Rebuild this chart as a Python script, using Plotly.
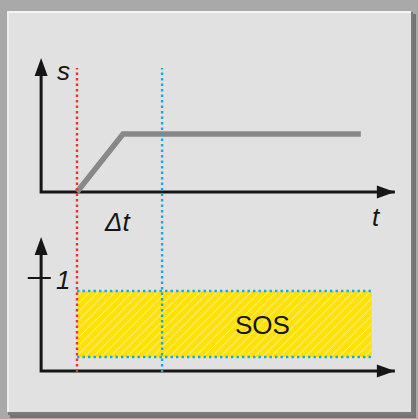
import plotly.graph_objects as go

# ---- data (t in units of the ramp time, s normalised) ----
ramp_t = [0.0, 1.0, 6.17]          # gray curve: start, end of ramp, end of plateau
ramp_s = [0.0, 1.0, 1.0]
t_red = 0.0                         # event line
t_cyan = 1.85                       # response line
t_origin = -0.78
t_max = 6.91
s_top = 2.31
line_top = 2.14
sos_t = [0.0, 6.41]                 # SOS band start / end
sos_v = [0.15, 0.86]                # SOS band low / high
v_top = 1.44
tick_val = 1

W, H = 418, 419
# pixel <-> data calibration (px per unit, pixel of origin)
PXT, X0 = 46.0, 77.0
PXS, YS0 = 58.0, 192.0
PXV, YV0 = 93.0, 371.0

xr = [(0 - X0) / PXT, (W - X0) / PXT]
yr_top = [(YS0 - H) / PXS, YS0 / PXS]
yr_bot = [(YV0 - H) / PXV, YV0 / PXV]

BLACK = '#161616'
RED = '#e8362a'
CYAN = '#17a9e0'
FONT = 'Liberation Sans, Arial, sans-serif'
DOT = '2.4px,3.1px'

fig = go.Figure()

# top panel
fig.add_trace(go.Scatter(x=[t_origin, t_origin, t_max], y=[s_top - 0.2, 0, 0], mode='lines',
                         line=dict(color=BLACK, width=3), hoverinfo='skip', yaxis='y'))
fig.add_trace(go.Scatter(x=ramp_t, y=ramp_s, mode='lines',
                         line=dict(color='#888888', width=5.5), hoverinfo='skip', yaxis='y'))

# bottom panel
fig.add_trace(go.Scatter(x=[sos_t[0], sos_t[1], sos_t[1], sos_t[0], sos_t[0]],
                         y=[sos_v[0], sos_v[0], sos_v[1], sos_v[1], sos_v[0]],
                         mode='lines', fill='toself', fillcolor='#ffe10a',
                         fillpattern=dict(shape='/', fgcolor='white', fgopacity=0.7, size=6, solidity=0.15),
                         line=dict(width=0), hoverinfo='skip', yaxis='y2'))
for v in sos_v:
    fig.add_trace(go.Scatter(x=sos_t, y=[v, v], mode='lines',
                             line=dict(color=CYAN, width=2.4, dash=DOT), hoverinfo='skip', yaxis='y2'))
fig.add_trace(go.Scatter(x=[t_origin, t_origin, t_max], y=[v_top - 0.1, 0, 0], mode='lines',
                         line=dict(color=BLACK, width=3), hoverinfo='skip', yaxis='y2'))
fig.add_trace(go.Scatter(x=[t_origin - 0.29, t_origin + 0.21], y=[tick_val, tick_val], mode='lines',
                         line=dict(color=BLACK, width=2), hoverinfo='skip', yaxis='y2'))

# vertical dotted markers spanning both panels
v_bottom = -0.01
v_line_top = line_top * PXS / PXV + (YV0 - YS0) / PXV
for tx, col in [(t_red, RED), (t_cyan, CYAN)]:
    fig.add_trace(go.Scatter(x=[tx, tx], y=[v_bottom, v_line_top], mode='lines',
                             line=dict(color=col, width=2.4, dash=DOT), hoverinfo='skip', yaxis='y2'))

shapes = []
# frame
def px_rect(x0, y0, x1, y1, color, **kw):
    return dict(type='rect', xref='paper', yref='paper', x0=x0 / W, x1=x1 / W,
                y0=1 - y1 / H, y1=1 - y0 / H, fillcolor=color, line=dict(width=0), layer='below', **kw)
shapes.append(px_rect(10, 14, 416, 418, '#5e5e5e', opacity=0.7))
shapes.append(px_rect(8, 12, 413, 415, '#7a7a7a'))
shapes.append(px_rect(7, 11, 411, 412, '#e1e1e1'))
shapes.append(px_rect(7, 11, 411, 13, '#f4f4f4'))
shapes.append(px_rect(7, 11, 9, 412, '#eeeeee'))

# arrowheads
def arrow(xa, ya, yref, path):
    return dict(type='path', xref='x', yref=yref, xsizemode='pixel', ysizemode='pixel',
                xanchor=xa, yanchor=ya, path=path, fillcolor=BLACK, line=dict(width=0))
shapes.append(arrow(t_origin, s_top, 'y', 'M0,0 L-6.5,-18 L6.5,-18 Z'))
shapes.append(arrow(t_max, 0, 'y', 'M0,0 L-18,-6.5 L-18,6.5 Z'))
shapes.append(arrow(t_origin, v_top, 'y2', 'M0,0 L-6.5,-18 L6.5,-18 Z'))
shapes.append(arrow(t_max, 0, 'y2', 'M0,0 L-18,-6.5 L-18,6.5 Z'))

annotations = [
    dict(text='<i>s</i>', x=-0.30, y=2.08, xref='x', yref='y', showarrow=False,
         font=dict(family=FONT, size=26, color=BLACK)),
    dict(text='<i>t</i>', x=6.5, y=-0.43, xref='x', yref='y', showarrow=False,
         font=dict(family=FONT, size=26, color=BLACK)),
    dict(text='<i>Δt</i>', x=0.87, y=-0.52, xref='x', yref='y', showarrow=False,
         font=dict(family=FONT, size=26, color=BLACK)),
    dict(text='<i>1</i>', x=-0.30, y=0.98, xref='x', yref='y2', showarrow=False,
         font=dict(family=FONT, size=26, color=BLACK)),
    dict(text='SOS', x=4.04, y=0.49, xref='x', yref='y2', showarrow=False,
         font=dict(family=FONT, size=26, color=BLACK)),
]

hidden = dict(visible=False, showgrid=False, zeroline=False, fixedrange=True)
fig.update_layout(
    width=W, height=H, margin=dict(l=0, r=0, t=0, b=0),
    paper_bgcolor='#a9a9a9', plot_bgcolor='rgba(0,0,0,0)', showlegend=False,
    xaxis=dict(range=xr, domain=[0, 1], **hidden),
    yaxis=dict(range=yr_top, domain=[0, 1], **hidden),
    yaxis2=dict(range=yr_bot, overlaying='y', **hidden),
    shapes=shapes, annotations=annotations,
)
fig.write_html('out.html', config={'displayModeBar': False},
               post_script="document.body.style.margin='0';document.body.style.overflow='hidden';")
